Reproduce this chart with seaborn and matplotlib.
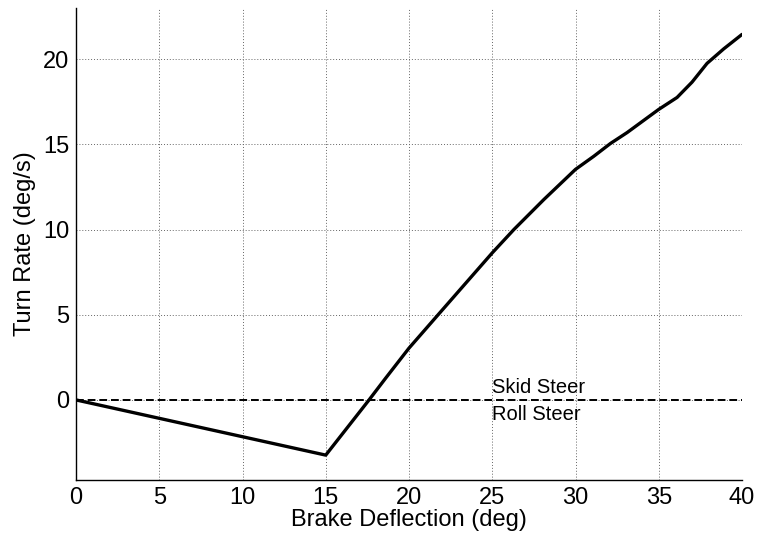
import numpy as np
import pandas as pd
import matplotlib
matplotlib.use("Agg")
import matplotlib.pyplot as plt
import seaborn as sns

# brake deflection (deg) and turn rate (deg/s)
deflection = [0, 5, 10, 15, 17.6, 18.6, 20, 21.75, 25, 26.3, 28.1, 30, 31.1,
              32.1, 33.1, 35, 36.1, 37.0, 37.9, 38.9, 40]
turn_rate = [0, -1.08, -2.16, -3.24, 0, 1.28, 3.04, 5.0, 8.63, 10.0, 11.76,
             13.53, 14.3, 15.05, 15.69, 17.05, 17.75, 18.65, 19.75, 20.6, 21.45]

x_ticks = [0, 5, 10, 15, 20, 25, 30, 35, 40]
y_ticks = [0, 5, 10, 15, 20]
boundary_x = [0, 40]
boundary_y = [0, 0]

df = pd.DataFrame({"deflection": deflection, "turn_rate": turn_rate})

sns.set_style("white")
plt.rcParams["font.family"] = ["Liberation Sans", "DejaVu Sans"]

fig = plt.figure(figsize=(7.61, 5.35), dpi=100)
ax = fig.add_axes([76 / 761, 1 - 480 / 535, (742 - 76) / 761, (480 - 8) / 535])

sns.lineplot(data=df, x="deflection", y="turn_rate", color="black", linewidth=2.4, ax=ax)
sns.lineplot(x=boundary_x, y=boundary_y, color="black", linewidth=1.4,
             linestyle=(0, (4, 2)), ax=ax)

ax.text(25, 0.2, "Skid Steer", fontsize=14.5, va="bottom", ha="left", color="black")
ax.text(25, -0.3, "Roll Steer", fontsize=14.5, va="top", ha="left", color="black")

ax.set_xlim(0, 40)
ax.set_ylim(-4.7, 23)
ax.set_xticks(x_ticks)
ax.set_yticks(y_ticks)
ax.grid(True, color="#666666", linestyle=(0, (1, 2)), linewidth=0.7)
ax.tick_params(direction="in", length=4, width=0.8, labelsize=17, color="black",
               labelcolor="black", pad=5)
for s in ["top", "right"]:
    ax.spines[s].set_visible(False)
for s in ["left", "bottom"]:
    ax.spines[s].set_color("black")
    ax.spines[s].set_linewidth(1.0)

ax.set_xlabel("Brake Deflection (deg)", fontsize=17, labelpad=0, color="black")
ax.set_ylabel("Turn Rate (deg/s)", fontsize=17, labelpad=5, color="black")

fig.savefig("out.png", dpi=100)
